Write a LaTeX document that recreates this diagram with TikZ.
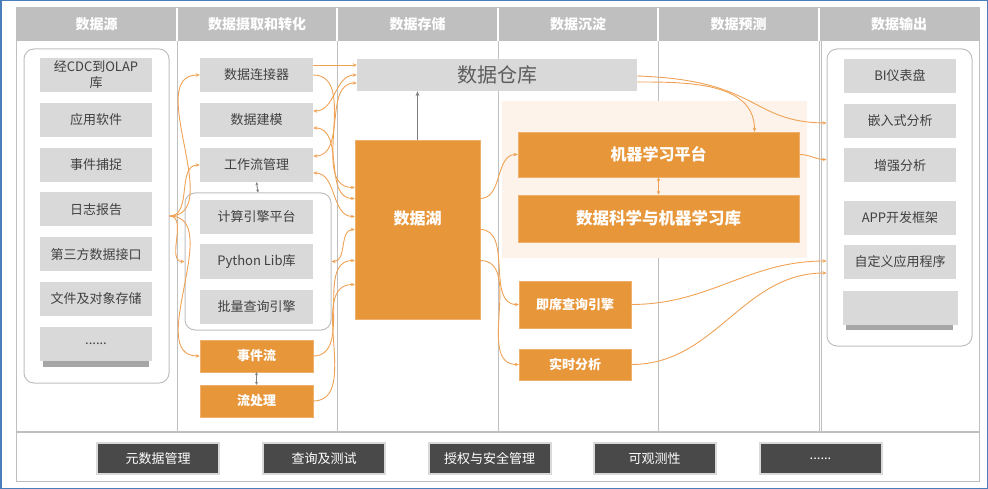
\documentclass[tikz,border=0pt]{standalone}
\usepackage{fontspec}
\setmainfont{Noto Sans CJK SC}
\usetikzlibrary{positioning}
\usetikzlibrary{arrows.meta}

\definecolor{hdgray}{HTML}{BFBFBF}
\definecolor{boxgray}{HTML}{D9D9D9}
\definecolor{txtgray}{HTML}{404040}
\definecolor{lakeorange}{HTML}{E8963A}
\definecolor{lineorange}{HTML}{F0A254}
\definecolor{paleorange}{HTML}{FDF3EA}
\definecolor{basegray}{HTML}{494949}
\definecolor{rimblue}{HTML}{4A7EBB}

\newcommand{\moredots}{......}

\tikzset{
	cell/.style={fill=boxgray, text=txtgray, minimum width=112pt, minimum height=34pt, inner sep=0pt, align=center, font=\fontsize{13pt}{16pt}\selectfont},
	hot/.style={fill=lakeorange, draw=lakeorange!75!white, text=white, inner sep=0pt, align=center, font=\fontsize{13pt}{16pt}\selectfont\bfseries},
	holder/.style={draw=hdgray, line width=1pt, rounded corners=10pt, inner sep=0pt},
	hdtext/.style={text=white, font=\fontsize{14pt}{16pt}\selectfont\bfseries},
	basebox/.style={fill=basegray, draw=boxgray, line width=2pt, text=white, minimum width=122pt, minimum height=31pt, inner sep=0pt, font=\fontsize{13pt}{16pt}\selectfont},
	feed/.style={lineorange, line width=0.9pt, -{Stealth[length=4pt,width=3.5pt]}},
	feedtwo/.style={lineorange, line width=0.9pt, {Stealth[length=4pt,width=3.5pt]}-{Stealth[length=4pt,width=3.5pt]}},
	linkgray/.style={gray, line width=0.9pt, {Stealth[length=3pt,width=3pt]}-{Stealth[length=3pt,width=3pt]}}
}

\begin{document}
\begin{tikzpicture}[x=1pt,y=-1pt]
\useasboundingbox (0,0) rectangle (988,489);

%frame
\draw[rimblue, line width=1.5pt] (0.75,0.75) rectangle (987.25,488.25);
\draw[hdgray, line width=1pt] (16,8) rectangle (979,481);
\fill[hdgray] (16,8) rectangle (979,41);
\draw[hdgray, line width=1.5pt] (16,432) -- (979,432);

%columns
\foreach \x in {177,337,498,658,819}
{
	\draw[hdgray, line width=1pt] (\x,41) -- (\x,432);
	\draw[white, line width=2pt] (\x,8) -- (\x,41);
}
\draw[hdgray, line width=1pt] (821,41) -- (821,432);

%headers
\foreach \x/\t [count=\i] in {96.5/数据源, 257/数据摄取和转化, 417.5/数据存储, 578/数据沉淀, 738.5/数据预测, 899/数据输出}
{
	\node[hdtext] (hd\i) at (\x,24.5) {\t};
}

%pale panel
\fill[paleorange] (502,101) rectangle (807,258);

%shadows
\fill[gray!70] (43,358) rectangle (149,367);
\fill[gray!70] (846,321) rectangle (953,330);

%sources
\node[holder, minimum width=145pt, minimum height=334pt] (srcbox) at (96.5,216) {};
\foreach \t [count=\i] in {{经CDC到OLAP\\库}, 应用软件, 事件捕捉, 日志报告, 第三方数据接口, 文件及对象存储, \moredots}
{
	\node[cell] (src\i) at (96,{30.2+44.8*\i}) {\t};
}

%ingest
\node[cell, minimum width=113pt] (conn) at (256.5,75) {数据连接器};
\node[cell, minimum width=113pt] (model) at (256.5,120) {数据建模};
\node[cell, minimum width=113pt] (wf) at (256.5,165) {工作流管理};
\node[holder, minimum width=146pt, minimum height=137pt] (engbox) at (258,261.5) {};
\node[cell, minimum width=113pt] (eng1) at (256.5,217) {计算引擎平台};
\node[cell, minimum width=113pt] (eng2) at (256.5,261.5) {Python Lib库};
\node[cell, minimum width=113pt] (eng3) at (256.5,306.5) {批量查询引擎};
\node[hot, minimum width=113pt, minimum height=32pt] (evt) at (256.5,356) {事件流};
\node[hot, minimum width=113pt, minimum height=32pt] (strm) at (256.5,401) {流处理};
\draw[linkgray] (wf.south) -- (engbox.north);
\draw[linkgray] (evt.south) -- (strm.north);

%storage
\node[cell, minimum width=280pt, minimum height=32pt, text=txtgray!85, font=\fontsize{20pt}{22pt}\selectfont] (dw) at (497,75) {数据仓库};
\node[hot, minimum width=125pt, minimum height=179pt, font=\fontsize{16pt}{18pt}\selectfont\bfseries] (lake) at (417.5,229.5) {\raisebox{24pt}{数据湖}};
\draw[gray, line width=1.2pt, -{Stealth[length=5pt,width=4pt]}] (lake.north) -- (lake.north |- dw.south);

%settle and predict
\node[hot, minimum width=281pt, minimum height=45pt, font=\fontsize{16pt}{18pt}\selectfont\bfseries] (mlp) at (658.5,154.5) {机器学习平台};
\node[hot, minimum width=281pt, minimum height=47pt, font=\fontsize{16.5pt}{18pt}\selectfont\bfseries] (dsml) at (658.5,218.5) {数据科学与机器学习库};
\node[hot, minimum width=112pt, minimum height=47pt] (adhoc) at (575,304.5) {即席查询引擎};
\node[hot, minimum width=112pt, minimum height=31pt] (rt) at (575,364.5) {实时分析};
\draw[feedtwo] (mlp.south) -- (dsml.north);

%outputs
\node[holder, minimum width=145pt, minimum height=297pt] (outbox) at (899.5,197.5) {};
\foreach \y/\t [count=\i] in {76/BI仪表盘, 121/嵌入式分析, 165.5/增强分析, 218/APP开发框架, 262/自定义应用程序}
{
	\node[cell] (out\i) at (900,\y) {\t};
}
\node[cell, minimum width=115pt] (out6) at (900,307.5) {};

%base
\foreach \x/\t [count=\i] in {158/元数据管理, 324/查询及测试, 489.5/授权与安全管理, 654.5/可观测性, 820.5/\moredots}
{
	\node[basebox] (base\i) at (\x,458.5) {\t};
}

%source fan
\draw[feed] (srcbox.east) to[out=0,in=180] (conn.west);
\draw[feed] (srcbox.east) to[out=0,in=180] (wf.west);
\draw[feed] (srcbox.east) to[out=0,in=180] (engbox.west);
\draw[feed] (srcbox.east) to[out=0,in=180] (evt.west);

%into storage
\draw[feed] ([yshift=10pt]conn.east) -- ([yshift=10pt]dw.west);
\draw[feed] (conn.east) to[out=0,in=180] ([yshift=42pt]lake.west);
\draw[feedtwo] (dw.west) to[out=180,in=0] ([yshift=9pt]model.east);
\draw[feedtwo] ([yshift=-8pt]dw.west) to[out=180,in=0] ([yshift=9pt]wf.east);
\draw[feedtwo] ([yshift=-8pt]model.east) to[out=0,in=180] ([yshift=31pt]lake.west);
\draw[feedtwo] ([yshift=-8pt]wf.east) to[out=0,in=180] ([yshift=13pt]lake.west);
\draw[feedtwo] (engbox.east) to[out=0,in=180] (lake.west);
\draw[feed] (evt.east) to[out=0,in=180] ([yshift=-31pt]lake.west);
\draw[feed] (strm.east) to[out=0,in=180] ([yshift=-55pt]lake.west);

%out of the lake
\draw[feed] ([yshift=31pt]lake.east) to[out=0,in=180] (mlp.west);
\draw[feed] (lake.east) to[out=0,in=180] (adhoc.west);
\draw[feed] ([yshift=-31pt]lake.east) to[out=0,in=180] (rt.west);

%to outputs
\draw[feed] ([yshift=-1pt]dw.east) .. controls +(123,4) and +(-77,-1) .. ([yshift=74.5pt]outbox.west);
\draw[feed] ([yshift=-7pt]dw.east) to[out=0,in=90] ([xshift=96pt]mlp.north);
\draw[feed] (mlp.east) to[out=0,in=180] ([yshift=38pt]outbox.west);
\draw[feed] (adhoc.east) to[out=0,in=180] ([yshift=-63.5pt]outbox.west);
\draw[feed] (rt.east) to[out=0,in=180] ([yshift=-75.5pt]outbox.west);

\end{tikzpicture}
\end{document}
